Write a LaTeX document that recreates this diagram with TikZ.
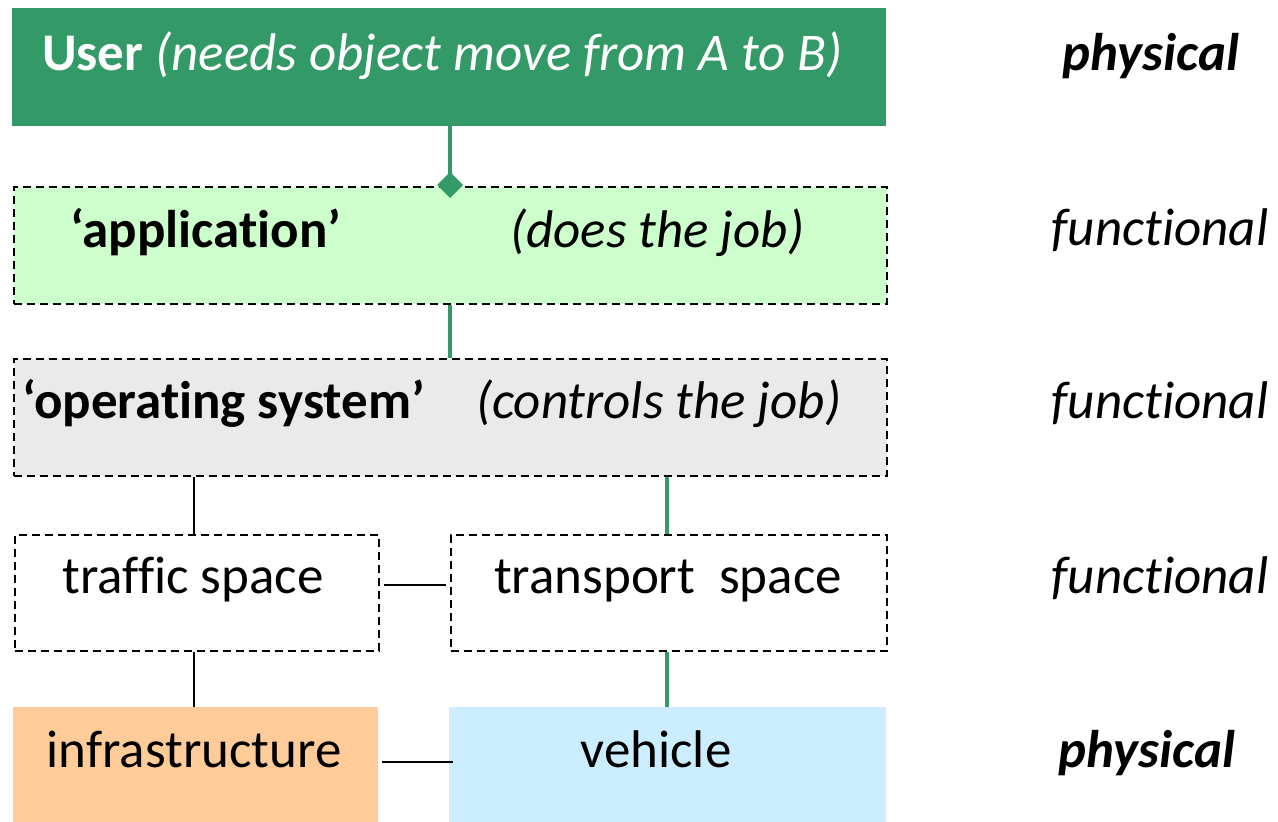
\documentclass[tikz,border=0pt]{standalone}
\usepackage{fontspec}
\setmainfont{Carlito}[Ligatures=NoCommon]
\usetikzlibrary{arrows.meta}
\definecolor{usergreen}{HTML}{339966}
\definecolor{appgreen}{HTML}{CCFFCC}
\definecolor{osgray}{HTML}{EAEAEA}
\definecolor{infraorange}{HTML}{FFCC99}
\definecolor{vehblue}{HTML}{CCECFF}
\tikzset{
  box/.style={rectangle, inner sep=0pt, anchor=north west},
  dashbox/.style={box, draw=black, line width=2pt, dash pattern=on 8pt off 5pt},
  greenlink/.style={draw=usergreen, line width=4.5pt},
  blacklink/.style={draw=black, line width=2pt},
  big/.style={font=\fontsize{53}{60}\selectfont, inner sep=0pt},
  side/.style={font=\fontsize{53}{60}\selectfont\itshape, inner sep=0pt, anchor=center},
}
\begin{document}
\begin{tikzpicture}[x=1pt, y=-1pt]
\useasboundingbox (0,0) rectangle (1278,822);

% layer boxes
\node[box, fill=usergreen, minimum width=874pt, minimum height=118pt] (user) at (12,8) {};
\node[dashbox, fill=appgreen, minimum width=873pt, minimum height=117pt] (app) at (12.5,186) {};
\node[dashbox, fill=osgray, minimum width=873pt, minimum height=117pt] (os) at (12.5,358) {};
\node[dashbox, fill=white, minimum width=364pt, minimum height=116pt] (traffic) at (13.5,534) {};
\node[dashbox, fill=white, minimum width=436pt, minimum height=116pt] (transport) at (449.5,534) {};
\node[box, fill=infraorange, minimum width=365pt, minimum height=115pt] (infra) at (13,707) {};
\node[box, fill=vehblue, minimum width=437pt, minimum height=115pt] (vehicle) at (449,707) {};

% texts inside the boxes
\node[big, text=white, anchor=base west] (usertxt) at (42,70) {\textbf{User} \textit{(needs object move from A to B)}};
\node[big, anchor=base west] (apptxt) at (70,247) {\textbf{‘application’}};
\node[big, anchor=base west] (appjob) at (510,247) {\textit{(does the job)}};
\node[big, anchor=base west] (ostxt) at (22,418) {\textbf{‘operating system’}};
\node[big, anchor=base west] (osjob) at (476,418) {\textit{(controls the job)}};
\node[big, anchor=base] (traffictxt) at (193,593) {traffic space};
\node[big, anchor=base] (transporttxt) at (668,593) {transport\ \ space};
\node[big, anchor=base] (infratxt) at (194,767) {infrastructure};
\node[big, anchor=base] (vehicletxt) at (656,767) {vehicle};

% level labels
\node[side, anchor=base] (l1) at (1151,70) {\textbf{physical}};
\node[side, anchor=base] (l2) at (1160,245) {functional};
\node[side, anchor=base] (l3) at (1160,418) {functional};
\node[side, anchor=base] (l4) at (1160,593) {functional};
\node[side, anchor=base] (l5) at (1147,767) {\textbf{physical}};

% connectors
\coordinate (a1) at (450,126);
\coordinate (a2) at (450,186);
\draw[greenlink, -{Diamond[length=26pt,width=26pt,line width=0pt]}, shorten >=-12pt] (a1) -- (a2);
\draw[greenlink] (app.south -| a1) -- (os.north -| a1);
\draw[blacklink] (os.south -| 194,0) -- (traffic.north -| 194,0);
\draw[greenlink] (os.south -| 667,0) -- (transport.north -| 667,0);
\draw[blacklink] ([shift={(4pt,8pt)}]traffic.east) -- ([shift={(-4pt,8pt)}]transport.west);
\draw[blacklink] (traffic.south -| 194,0) -- (infra.north -| 194,0);
\draw[greenlink] (transport.south -| 667,0) -- (vehicle.north -| 667,0);
\draw[blacklink] ([shift={(4pt,3pt)}]infra.east) -- ([shift={(4pt,3pt)}]vehicle.west);
\end{tikzpicture}
\end{document}
